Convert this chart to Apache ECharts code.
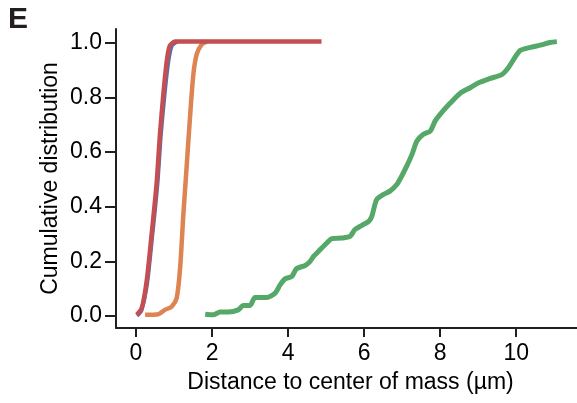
<!DOCTYPE html>
<html>
<head>
<meta charset="utf-8">
<script src="https://cdn.jsdelivr.net/npm/echarts@6/dist/echarts.min.js"></script>
<style>
html,body{margin:0;padding:0;background:#fff;}
#c{width:577px;height:403px;}
</style>
</head>
<body>
<div id="c"></div>
<script>
var xTicks = [0, 2, 4, 6, 8, 10];
var yTicks = [0, 0.2, 0.4, 0.6, 0.8, 1.0];

var blueData = [[0.03,0],[0.15,0.02],[0.30,0.12],[0.44,0.30],[0.57,0.48],[0.66,0.66],[0.76,0.81],[0.86,0.93],[0.95,0.985],[1.10,1.0]];
var orangeData = [[0.24,0.004],[0.59,0.006],[0.76,0.022],[0.94,0.034],[1.07,0.065],[1.16,0.174],[1.24,0.357],[1.33,0.54],[1.42,0.723],[1.51,0.882],[1.60,0.955],[1.73,0.99],[1.86,1.0]];
var greenData = [[1.82,0.006],[2.03,0.004],[2.21,0.014],[2.43,0.014],[2.69,0.022],[2.82,0.038],[3.00,0.038],[3.13,0.067],[3.44,0.067],[3.66,0.083],[3.79,0.113],[3.92,0.135],[4.10,0.144],[4.22,0.172],[4.45,0.184],[4.58,0.199],[4.67,0.217],[4.84,0.241],[5.02,0.266],[5.15,0.282],[5.41,0.284],[5.63,0.290],[5.76,0.315],[5.94,0.330],[6.12,0.345],[6.20,0.362],[6.33,0.424],[6.51,0.443],[6.68,0.455],[6.86,0.479],[6.99,0.510],[7.12,0.546],[7.26,0.589],[7.39,0.638],[7.56,0.662],[7.74,0.674],[7.87,0.711],[8.00,0.735],[8.26,0.775],[8.53,0.812],[8.79,0.832],[9.00,0.849],[9.32,0.866],[9.62,0.880],[9.80,0.906],[9.97,0.943],[10.11,0.968],[10.37,0.979],[10.63,0.987],[10.89,0.997],[11.07,1.0]];
var redData = [[0.02,0.004],[0.15,0.028],[0.28,0.126],[0.41,0.296],[0.54,0.479],[0.63,0.662],[0.72,0.809],[0.81,0.93],[0.89,0.985],[1.03,1.0],[4.88,1.0]];

var axisColor = '#231f20';
var font = 'Liberation Sans, Arial, sans-serif';

// main plotting extents (axis spines are offset from the data origin)
var xMin = -0.526, xMax = 11.6, yMin = -0.044, yMax = 1.046;

function line(name, data, color, width, smooth) {
  return {name: name, type: 'line', data: data, showSymbol: false, symbol: 'none',
    xAxisIndex: 0, yAxisIndex: 0, smooth: smooth,
    lineStyle: {color: color, width: width, join: 'round'}, itemStyle: {color: color}, animation: false, z: 2};
}

var chart = echarts.init(document.getElementById('c'), null, {renderer: 'canvas'});
chart.setOption({
  animation: false,
  grid: [
    {left: 116, right: 0, top: 29, bottom: 75, containLabel: false, outerBoundsMode: 'none'},
    {left: 136, right: 60.8, top: 29, bottom: 75, containLabel: false, outerBoundsMode: 'none'},
    {left: 116, right: 0, top: 42.7, bottom: 87, containLabel: false, outerBoundsMode: 'none'}
  ],
  xAxis: [
    {
      gridIndex: 0, type: 'value', min: xMin, max: xMax,
      name: 'Distance to center of mass (\u00b5m)', nameLocation: 'middle', nameGap: 43,
      nameTextStyle: {fontFamily: font, fontSize: 23, color: '#000', padding: [0,0,0,8]},
      axisLine: {show: true, onZero: false, lineStyle: {color: axisColor, width: 2}},
      axisTick: {show: false}, axisLabel: {show: false}, splitLine: {show: false}
    },
    {
      gridIndex: 1, type: 'value', min: xTicks[0], max: xTicks[xTicks.length - 1], interval: 2,
      axisLine: {show: false, onZero: false},
      axisTick: {show: true, length: 9, inside: false, lineStyle: {color: axisColor, width: 2}},
      axisLabel: {show: true, margin: 14, fontFamily: font, fontSize: 23, color: '#000'},
      splitLine: {show: false}
    },
    {gridIndex: 2, type: 'value', show: false, min: 0, max: 1}
  ],
  yAxis: [
    {
      gridIndex: 0, type: 'value', min: yMin, max: yMax,
      name: 'Cumulative distribution', nameLocation: 'middle', nameGap: 54,
      nameTextStyle: {fontFamily: font, fontSize: 23, color: '#000'},
      axisLine: {show: true, onZero: false, lineStyle: {color: axisColor, width: 2}},
      axisTick: {show: false}, axisLabel: {show: false}, splitLine: {show: false}
    },
    {gridIndex: 1, type: 'value', show: false, min: 0, max: 1},
    {
      gridIndex: 2, type: 'value', min: yTicks[0], max: yTicks[yTicks.length - 1], interval: 0.2,
      axisLine: {show: false, onZero: false},
      axisTick: {show: true, length: 11, inside: false, lineStyle: {color: axisColor, width: 2}},
      axisLabel: {show: true, margin: 14, fontFamily: font, fontSize: 23, color: '#000',
        formatter: function (v) { return v.toFixed(1); }},
      splitLine: {show: false}
    }
  ],
  graphic: [{type: 'text', left: 8, top: 5, style: {text: 'E', font: 'bold 30px ' + font, fill: '#231f20'}}],
  series: [
    line('blue', blueData, '#4c72b0', 3.5, 0.25),
    line('orange', orangeData, '#dd8452', 4.5, 0.25),
    line('green', greenData, '#55a868', 5, 0.25),
    line('red', redData, '#c44e52', 4.5, 0.25)
  ]
});
</script>
</body>
</html>
